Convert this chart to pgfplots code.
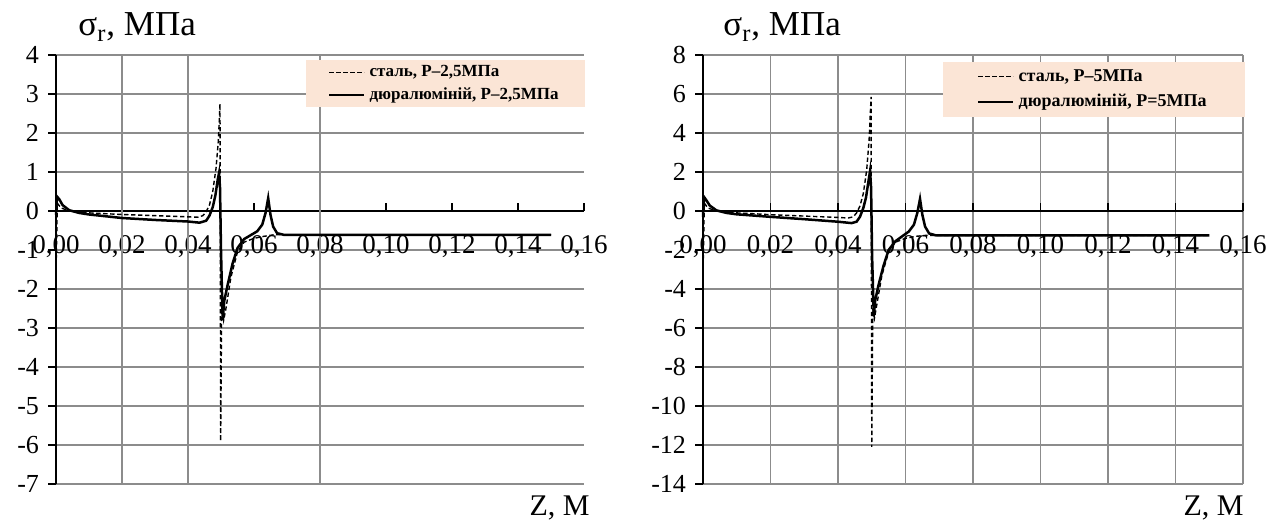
\documentclass[border=0pt]{standalone}
\usepackage{fontspec}
\setmainfont{Liberation Serif}
\usepackage{pgfplots}
\pgfplotsset{compat=1.18}
\definecolor{peach}{RGB}{251,229,214}
\definecolor{gridgray}{RGB}{140,140,140}

\pgfplotstableread{
z s
0 -1.6
0.0004 0.2
0.0015 0.08
0.004 0.0
0.008 -0.04
0.015 -0.07
0.02 -0.09
0.03 -0.12
0.04 -0.15
0.043 -0.16
0.0445 -0.12
0.0455 -0.02
0.0465 0.15
0.0475 0.5
0.0485 1.1
0.0492 1.8
0.0497 2.75
0.0499 -5.9
0.0502 -2.4
0.0508 -2.8
0.0515 -2.5
0.053 -1.7
0.055 -1.05
0.057 -0.8
0.06 -0.7
0.063 -0.65
0.066 -0.61
0.15 -0.61
}\steelA

\pgfplotstableread{
z s
0 -0.1
0.0003 0.37
0.001 0.3
0.002 0.15
0.004 0.02
0.007 -0.05
0.01 -0.09
0.02 -0.18
0.03 -0.23
0.04 -0.27
0.0435 -0.3
0.0455 -0.25
0.0465 -0.12
0.0475 0.1
0.0483 0.4
0.049 0.8
0.0494 0.97
0.0497 0.6
0.0500 -1.0
0.0505 -2.8
0.051 -2.3
0.052 -1.9
0.0535 -1.35
0.055 -0.95
0.057 -0.72
0.059 -0.62
0.061 -0.52
0.0625 -0.35
0.0635 -0.05
0.0643 0.33
0.065 -0.1
0.0658 -0.4
0.067 -0.57
0.069 -0.61
0.15 -0.61
}\duralA

\pgfplotstableread{
z s
0 -3.2
0.0004 0.4
0.0015 0.15
0.004 0.0
0.008 -0.08
0.015 -0.14
0.02 -0.19
0.03 -0.26
0.04 -0.33
0.043 -0.36
0.0445 -0.3
0.0455 -0.1
0.0465 0.25
0.0475 0.9
0.0485 2.1
0.0492 3.6
0.0498 5.85
0.0500 -12.1
0.0503 -5.0
0.0508 -5.5
0.0515 -4.8
0.053 -3.3
0.055 -2.1
0.057 -1.6
0.06 -1.4
0.063 -1.3
0.066 -1.25
0.15 -1.25
}\steelB

\pgfplotstableread{
z s
0 -0.3
0.0003 0.72
0.001 0.55
0.002 0.28
0.004 0.03
0.007 -0.1
0.01 -0.17
0.02 -0.3
0.03 -0.42
0.04 -0.55
0.044 -0.62
0.0455 -0.55
0.0465 -0.3
0.0475 0.15
0.0483 0.7
0.049 1.5
0.0495 2.05
0.0498 1.2
0.0501 -2.3
0.0506 -5.4
0.051 -4.6
0.052 -3.8
0.0535 -2.8
0.055 -2.0
0.057 -1.55
0.059 -1.3
0.061 -1.05
0.0625 -0.7
0.0635 -0.1
0.0643 0.62
0.065 -0.2
0.0658 -0.8
0.067 -1.15
0.069 -1.25
0.15 -1.25
}\duralB

\pgfplotsset{
  mychart/.style={
    scale only axis,
    height=214.5pt,
    axis x line=middle, axis y line=left,
    axis line style={-, line width=0.9pt, black},
    hide obscured x ticks=false, hide obscured y ticks=false,
    xmin=0, xmax=0.16,
    xtick={0,0.02,0.04,0.06,0.08,0.1,0.12,0.14,0.16},
    xticklabels={{0,00},{0,02},{0,04},{0,06},{0,08},{0,10},{0,12},{0,14},{0,16}},
    xtick align=inside,
    ytick align=outside,
    major tick length=4pt,
    tick style={black, line width=0.8pt},
    xticklabel style={font=\fontsize{13.5}{13.5}\selectfont, yshift=-8.5pt},
    yticklabel style={font=\fontsize{13}{13}\selectfont, xshift=-1pt},
    ymajorgrids,
    major grid style={gridgray, line width=0.9pt},
    legend cell align=left,
    legend image code/.code={\draw[##1] (0pt,0pt) -- (17.5pt,0pt);},
    clip=false,
  },
  steel/.style={black, line width=0.7pt, dash pattern=on 2.2pt off 1.3pt},
  dural/.style={black, line width=1.25pt},
}

\begin{document}
\begin{tikzpicture}
\useasboundingbox (0,0) rectangle (637pt,262pt);

\begin{axis}[mychart,
  at={(28pt,20pt)}, anchor=south west,
  width=264pt,
  ymin=-7, ymax=4,
  ytick={-7,-6,-5,-4,-3,-2,-1,0,1,2,3,4},
  yticklabels={-7,-6,-5,-4,-3,-2,-1,0,1,2,3,4},
  extra x ticks={0.02,0.04,0.08},
  extra x tick labels={},
  extra x tick style={xmajorgrids=true, major tick length=0pt, major grid style={gridgray, line width=0.6pt}},
  legend style={at={(rel axis cs:1,1)}, anchor=north east, xshift=0.5pt, yshift=-2.5pt,
    fill=peach, draw=none, font=\fontsize{8.5}{10}\selectfont\bfseries,
    inner xsep=11pt, inner ysep=0.5pt, row sep=0pt},
]
\addplot[steel] table[x=z,y=s] {\steelA};
\addlegendentry{сталь, Р–2,5МПа}
\addplot[dural] table[x=z,y=s] {\duralA};
\addlegendentry{дюралюміній, Р–2,5МПа}
\end{axis}

\begin{axis}[mychart,
  at={(351.5pt,20pt)}, anchor=south west,
  width=270pt,
  ymin=-14, ymax=8,
  ytick={-14,-12,-10,-8,-6,-4,-2,0,2,4,6,8},
  yticklabels={-14,-12,-10,-8,-6,-4,-2,0,2,4,6,8},
  xmajorgrids,
  legend style={at={(rel axis cs:1,1)}, anchor=north east, xshift=1pt, yshift=-3.5pt,
    fill=peach, draw=none, font=\fontsize{9}{11}\selectfont\bfseries,
    inner xsep=17pt, inner ysep=1.5pt, row sep=1pt},
]
\addplot[steel] table[x=z,y=s] {\steelB};
\addlegendentry{сталь, Р–5МПа}
\addplot[dural] table[x=z,y=s] {\duralB};
\addlegendentry{дюралюміній, Р=5МПа}
\end{axis}

\node[anchor=base west, font=\fontsize{17.5}{19}\selectfont, inner sep=0pt] at (39pt,244pt) {σ\textsubscript{r}, МПа};
\node[anchor=base west, font=\fontsize{17.5}{19}\selectfont, inner sep=0pt] at (361.5pt,244pt) {σ\textsubscript{r}, МПа};
\node[anchor=base east, font=\fontsize{15}{16}\selectfont, inner sep=0pt] at (295pt,4pt) {Z, М};
\node[anchor=base east, font=\fontsize{15}{16}\selectfont, inner sep=0pt] at (622pt,4pt) {Z, М};
\end{tikzpicture}
\end{document}
